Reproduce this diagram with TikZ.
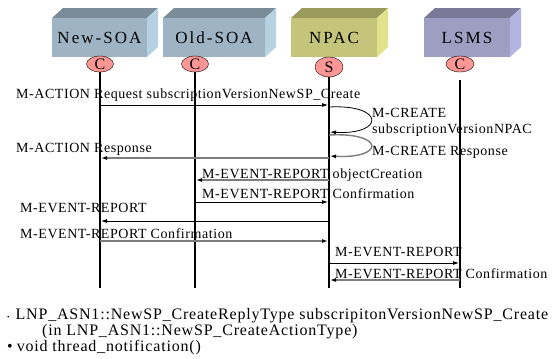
\documentclass[tikz,border=0pt]{standalone}
\usepackage{fontspec}
\setmainfont{Liberation Serif}
\usetikzlibrary{shapes.geometric,arrows.meta}
\definecolor{soafront}{RGB}{158,180,196}
\definecolor{soatop}{RGB}{122,140,152}
\definecolor{soaside}{RGB}{182,210,226}
\definecolor{npacfront}{RGB}{196,196,122}
\definecolor{npactop}{RGB}{154,154,92}
\definecolor{npacside}{RGB}{226,226,140}
\definecolor{lsmsfront}{RGB}{158,158,194}
\definecolor{lsmstop}{RGB}{122,122,152}
\definecolor{lsmsside}{RGB}{180,180,226}
\definecolor{rolefill}{RGB}{255,150,150}
\definecolor{msggrey}{RGB}{125,125,125}
\tikzset{
  boxlabel/.style={anchor=base,inner sep=0pt,font=\fontsize{17}{19}\selectfont\addfontfeature{LetterSpace=12}},
  role/.style={ellipse,draw,fill=rolefill,minimum width=27pt,minimum height=16pt,inner sep=0pt,font=\fontsize{16}{16}\selectfont},
  lifeline/.style={line width=2pt},
  msg/.style={-{Latex[length=6pt,width=4pt,color=black]},line width=0.8pt,shorten >=1pt},
  msggrey/.style={msg,draw=msggrey,line width=1.4pt},
  lbl/.style={anchor=base west,inner sep=0pt,font=\fontsize{14}{16}\selectfont\addfontfeature{LetterSpace=4}},
  note/.style={anchor=base west,inner sep=0pt,font=\fontsize{16}{18}\selectfont\addfontfeature{LetterSpace=5}},
}
\begin{document}
\begin{tikzpicture}[x=1pt,y=-1pt]
  \useasboundingbox (0,0) rectangle (560,359);
  \fill[white] (0,0) rectangle (560,359);
  % the four boxes
  \foreach \nm/\xa/\xb/\lbl/\cl in {newsoa/52/147/New-SOA/soa, oldsoa/163/265/Old-SOA/soa, npac/291/377/NPAC/npac, lsms/424/510/LSMS/lsms}{
    \fill[\cl top] (\xa,18) -- (\xa+11,8) -- (\xb+11,8) -- (\xb,18) -- cycle;
    \fill[\cl side] (\xb,18) -- (\xb+11,8) -- (\xb+11,47) -- (\xb,57) -- cycle;
    \fill[\cl front] (\xa,18) rectangle (\xb,57);
    \node[boxlabel] (\nm) at ({(\xa+\xb)/2},43) {\lbl};
  }
  % roles
  \node[role] (newsoaR) at (100,64) {C};
  \node[role] (oldsoaR) at (195,64) {C};
  \node[role,minimum height=20pt,minimum width=28pt] (npacR) at (329,67) {S};
  \node[role,minimum width=28pt] (lsmsR) at (460,64) {C};
  % lifelines
  \draw[lifeline] (newsoaR.south) -- (newsoaR |- 0,288);
  \draw[lifeline] (oldsoaR.south) -- (oldsoaR |- 0,288);
  \draw[lifeline] (npacR.south) -- (npacR |- 0,288);
  \draw[lifeline] (lsmsR |- 0,80) -- (lsmsR |- 0,288);
  % messages
  \draw[msg] (newsoaR |- 0,105) -- (npacR |- 0,105);
  \draw[msg] (npacR |- 0,107) .. controls +(56,-3) and +(56,3) .. (npacR |- 0,132);
  \draw[msggrey] (npacR |- 0,135) .. controls +(56,-3) and +(56,3) .. (npacR |- 0,156);
  \draw[msggrey] (npacR |- 0,158) -- (newsoaR |- 0,158);
  \draw[msggrey] (npacR |- 0,180) -- (oldsoaR |- 0,180);
  \draw[msg] (oldsoaR |- 0,202) -- (npacR |- 0,202);
  \draw[msg] (npacR |- 0,221) -- (newsoaR |- 0,221);
  \draw[msggrey] (newsoaR |- 0,241) -- (npacR |- 0,241);
  \draw[msg] (npacR |- 0,263) -- (lsmsR |- 0,263);
  \draw[msggrey] (lsmsR |- 0,280) -- (npacR |- 0,280);
  % labels
  \node[lbl] (req) at (16,98) {M-ACTION Request subscriptionVersionNewSP\_Create};
  \node[lbl] (create) at (372,117) {M-CREATE};
  \node[lbl] (createb) at (372,133) {subscriptionVersionNPAC};
  \node[lbl] (createresp) at (372,155) {M-CREATE Response};
  \node[lbl] (resp) at (16,152) {M-ACTION Response};
  \node[lbl] (objcr) at (202,178) {M-EVENT-REPORT objectCreation};
  \node[lbl] (objconf) at (202,198) {M-EVENT-REPORT Confirmation};
  \node[lbl] (evrep) at (20,212) {M-EVENT-REPORT};
  \node[lbl] (evconf) at (20,238) {M-EVENT-REPORT Confirmation};
  \node[lbl] (lsmsrep) at (335,256) {M-EVENT-REPORT};
  \node[lbl] (lsmsconf) at (335,278) {M-EVENT-REPORT Confirmation};
  % notes
  \node[note] (note1) at (7,319) {{\scriptsize\textbullet}\hspace{6pt}LNP\_ASN1::NewSP\_CreateReplyType subscripitonVersionNewSP\_Create};
  \node[note] (note2) at (42,335) {(in LNP\_ASN1::NewSP\_CreateActionType)};
  \node[note] (note3) at (7,351) {\textbullet\hspace{4pt}void thread\_notification()};
\end{tikzpicture}
\end{document}
